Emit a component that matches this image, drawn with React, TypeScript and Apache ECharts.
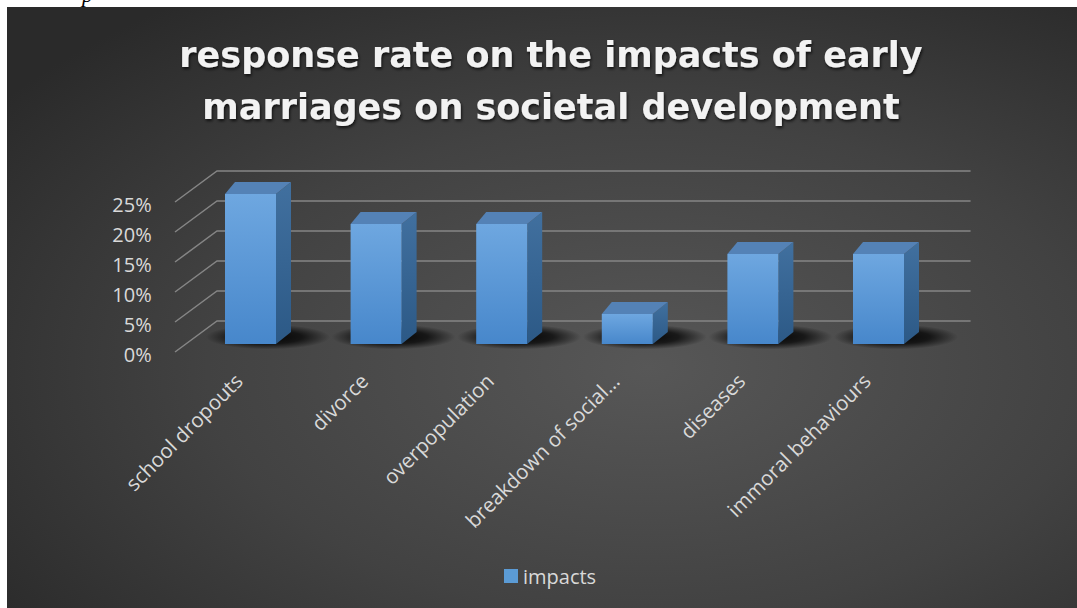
import React, { useEffect, useRef } from "react";
import * as echarts from "echarts";

const categories = [
  "school dropouts",
  "divorce",
  "overpopulation",
  "breakdown of social…",
  "diseases",
  "immoral behaviours",
];
const impacts = [25, 20, 20, 5, 15, 15];
const yTicks = [0, 5, 10, 15, 20, 25];
const seriesName = "impacts";
const titleLines = [
  "response rate on the impacts of early",
  "marriages on societal development",
];

const FONT = "'Open Sans', 'Liberation Sans', sans-serif";

export default function App() {
  const ref = useRef<HTMLDivElement>(null);
  useEffect(() => {
    if (!ref.current) return;
    const chart = echarts.init(ref.current, undefined, { renderer: "svg" });
    const DX = 15;
    const DY = -12;
    const BW = 51;
    const option: any = {
      animation: false,
      backgroundColor: "#ffffff",
      graphic: [
        {
          type: "text",
          left: 82,
          top: -17,
          z: 0,
          style: {
            text: "p",
            font: "italic 22px 'Liberation Serif', serif",
            fill: "#000",
          },
        },
        {
          type: "rect",
          z: -10,
          silent: true,
          shape: { x: 7, y: 7, width: 1070, height: 601 },
          style: {
            fill: new echarts.graphic.RadialGradient(0.6, 0.6, 0.75, [
              { offset: 0, color: "#575757" },
              { offset: 0.55, color: "#424242" },
              { offset: 1, color: "#2a2a2a" },
            ]),
          },
        },
      ],
      title: {
        text: titleLines.join("\n"),
        left: 546,
        top: 24,
        textAlign: "center",
        textStyle: {
          color: "#f2f2f2",
          fontFamily: "'DejaVu Sans', sans-serif",
          fontWeight: "bold",
          fontSize: 35,
          lineHeight: 52,
          textShadowColor: "rgba(0,0,0,0.7)",
          textShadowBlur: 3,
          textShadowOffsetX: 1,
          textShadowOffsetY: 2,
        },
      },
      legend: {
        data: [seriesName],
        left: 499,
        top: 561,
        icon: "rect",
        itemWidth: 14,
        itemHeight: 14,
        textStyle: { color: "#d9d9d9", fontSize: 20, fontFamily: FONT },
      },
      grid: { left: 187.7, width: 753.6, top: 194, height: 150, containLabel: false },
      xAxis: {
        type: "category",
        data: categories,
        axisLine: { show: false },
        axisTick: { show: false },
        splitLine: { show: false },
        axisLabel: {
          rotate: 45,
          margin: 21,
          interval: 0,
          color: "#d9d9d9",
          fontSize: 20.5,
          fontFamily: FONT,
          padding: [0, 17, 0, 0],
        },
      },
      yAxis: {
        type: "value",
        min: 0,
        max: 25,
        interval: 5,
        axisLine: { show: false },
        axisTick: { show: false },
        splitLine: { show: false },
        axisLabel: {
          formatter: "{value}%",
          margin: 36,
          color: "#d9d9d9",
          fontSize: 20,
          fontFamily: FONT,
          verticalAlign: "top",
        },
      },
      series: [
        {
          type: "custom",
          name: "gridlines",
          silent: true,
          z: 1,
          data: yTicks.map((v) => [0, v]),
          renderItem: (params: any, api: any) => {
            const cs = params.coordSys;
            const y = api.coord([0, api.value(1)])[1];
            return {
              type: "polyline",
              shape: {
                points: [
                  [cs.x - 12.7, y + 8],
                  [cs.x + 29.3, y - 23],
                  [cs.x + cs.width + 29.3, y - 23],
                ],
              },
              style: { stroke: "#858585", lineWidth: 1.5, fill: "none" },
            };
          },
        },
        {
          type: "custom",
          name: seriesName,
          z: 3,
          itemStyle: { color: "#5b9bd5" },
          data: impacts.map((v, i) => [i, v]),
          renderItem: (params: any, api: any) => {
            const p = api.coord([api.value(0), api.value(1)]);
            const b = api.coord([api.value(0), 0]);
            const left = p[0] - BW / 2;
            const right = p[0] + BW / 2;
            const top = p[1];
            const bottom = b[1];
            return {
              type: "group",
              children: [
                {
                  type: "circle",
                  x: right - 8,
                  y: bottom - 7,
                  scaleY: 0.2,
                  shape: { cx: 0, cy: 0, r: 62 },
                  style: {
                    fill: new echarts.graphic.RadialGradient(0.5, 0.5, 0.5, [
                      { offset: 0, color: "rgba(0,0,0,0.95)" },
                      { offset: 0.55, color: "rgba(0,0,0,0.7)" },
                      { offset: 1, color: "rgba(0,0,0,0)" },
                    ]),
                  },
                },
                {
                  type: "polygon",
                  shape: {
                    points: [
                      [right, top],
                      [right + DX, top + DY],
                      [right + DX, bottom + DY],
                      [right, bottom],
                    ],
                  },
                  style: {
                    fill: new echarts.graphic.LinearGradient(0, 0, 0, 1, [
                      { offset: 0, color: "#41709f" },
                      { offset: 1, color: "#2c5986" },
                    ]),
                  },
                },
                {
                  type: "polygon",
                  shape: {
                    points: [
                      [left, top],
                      [left + DX - 5, top + DY],
                      [right + DX, top + DY],
                      [right, top],
                    ],
                  },
                  style: { fill: "#5482b6" },
                },
                {
                  type: "rect",
                  shape: { x: left, y: top, width: BW, height: bottom - top },
                  style: {
                    fill: new echarts.graphic.LinearGradient(0, 0, 0, 1, [
                      { offset: 0, color: "#6ea7e0" },
                      { offset: 1, color: "#4787cb" },
                    ]),
                  },
                },
              ],
            };
          },
        },
      ],
    };
    chart.setOption(option);
    return () => chart.dispose();
  }, []);
  return (
    <div
      ref={ref}
      style={{ position: "absolute", left: 0, top: 0, width: 1077, height: 608 }}
    />
  );
}
